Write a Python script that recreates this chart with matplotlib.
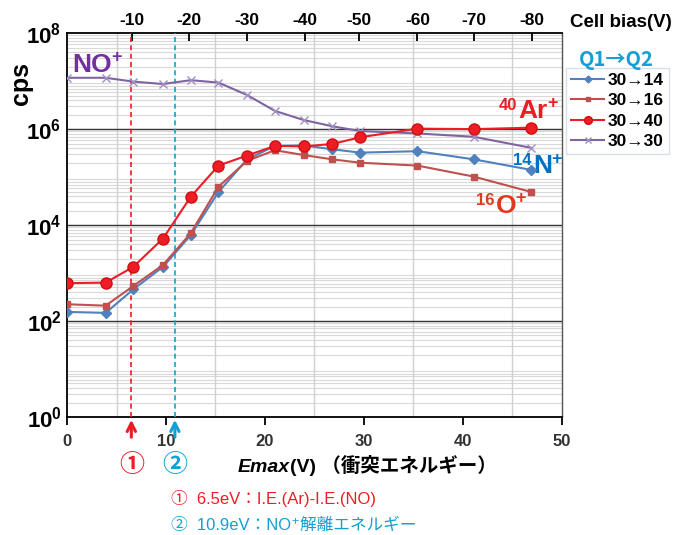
import numpy as np
import matplotlib
matplotlib.use('Agg')
import matplotlib.pyplot as plt

plt.rcParams['font.family'] = ['Liberation Sans', 'Noto Sans CJK JP', 'DejaVu Sans']
plt.rcParams['mathtext.fontset'] = 'custom'
plt.rcParams['mathtext.rm'] = 'Liberation Sans'
plt.rcParams['mathtext.bf'] = 'Liberation Sans:bold'
plt.rcParams['mathtext.it'] = 'Liberation Sans:italic'

# Emax (V) of each measured point, and the matching cell bias (V)
emax = [0, 3.9, 6.7, 9.7, 12.5, 15.3, 18.2, 21.0, 23.9, 26.8, 29.6, 35.4, 41.1, 46.9]
cell_bias = [0, -5, -10, -15, -20, -25, -30, -35, -40, -45, -50, -60, -70, -80]

# counts (cps), log10 values
n14 = [2.19, 2.17, 2.66, 3.13, 3.79, 4.69, 5.37, 5.65, 5.66, 5.58, 5.51, 5.54, 5.37, 5.15]
o16 = [2.35, 2.32, 2.73, 3.17, 3.83, 4.80, 5.34, 5.56, 5.46, 5.37, 5.30, 5.24, 5.01, 4.69]
ar40 = [2.79, 2.80, 3.13, 3.72, 4.59, 5.24, 5.45, 5.65, 5.64, 5.69, 5.83, 6.01, 6.00, 6.03]
no30 = [7.07, 7.07, 6.99, 6.94, 7.02, 6.97, 6.71, 6.38, 6.19, 6.06, 5.96, 5.91, 5.84, 5.61]

# top axis: cell bias tick labels and where they fall in Emax
bias_ticks = [-10, -20, -30, -40, -50, -60, -70, -80]
bias_tick_emax = [6.6, 12.3, 18.2, 24.0, 29.5, 35.4, 41.1, 47.0]

ie_ar_no = 6.5
no_dissoc = 10.9

c_blue = '#4f81bd'
c_brown = '#c0504d'
c_red = '#ee1c25'
c_purple = '#8064a2'
c_cyan = '#139fd3'
cjk = ['Noto Sans CJK JP', 'DejaVu Sans']

fig = plt.figure(figsize=(6.77, 5.35), dpi=100)
ax = fig.add_axes([0.099, 0.2206, 0.731, 0.7174])

ax.set_yscale('log')
ax.set_xlim(0, 50)
ax.set_ylim(1, 1e8)

# grid
for e in range(0, 8):
    for m in range(2, 10):
        ax.axhline(m * 10**e, color='#d9d9d9', lw=0.8, zorder=0)
for y in [1e2, 1e4, 1e6]:
    ax.axhline(y, color='#333333', lw=1.0, zorder=1)
for x in [5, 15, 25, 35, 45]:
    ax.axvline(x, color='#d0d0d0', lw=1.0, zorder=0)

ax.plot(emax, 10**np.array(n14), color=c_blue, marker='D', ms=5, lw=1.5, label='30→14', zorder=4)
ax.plot(emax, 10**np.array(o16), color=c_brown, marker='s', ms=5, lw=1.5, label='30→16', zorder=4)
ax.plot(emax, 10**np.array(ar40), color=c_red, marker='o', ms=8, lw=1.5, label='30→40', zorder=5,
        markeredgecolor='#d01010')
ax.plot(emax, 10**np.array(no30), color=c_purple, marker='x', ms=6, lw=1.5, label='30→30', zorder=4,
        markeredgecolor='#a090c0')

ax.axvline(ie_ar_no, color=c_red, ls=(0, (3, 2)), lw=1.2, zorder=3)
ax.axvline(no_dissoc, color=c_cyan, ls=(0, (3, 2)), lw=1.2, zorder=3)

# arrows under the axis
for xv, col in [(ie_ar_no, c_red), (no_dissoc, c_cyan)]:
    ax.annotate('', xy=(xv, 0.0), xytext=(xv, -0.06), xycoords=('data', 'axes fraction'),
                textcoords=('data', 'axes fraction'),
                arrowprops=dict(arrowstyle='->', color=col, lw=2.2, mutation_scale=15))
ax.text(ie_ar_no, -0.125, '①', color=c_red, fontsize=18, fontweight='bold', ha='center', va='center',
        transform=ax.get_xaxis_transform(), family=cjk)
ax.text(no_dissoc, -0.125, '②', color=c_cyan, fontsize=18, fontweight='bold', ha='center', va='center',
        transform=ax.get_xaxis_transform(), family=cjk)

# axes styling
for s in ['left', 'bottom', 'top']:
    ax.spines[s].set_color('black')
    ax.spines[s].set_linewidth(1.3)
ax.spines['right'].set_color('#555555')
ax.spines['right'].set_linewidth(1.0)

ax.set_xticks([0, 10, 20, 30, 40, 50])
ax.set_xticklabels(['0', '10', '20', '30', '40', '50'], fontsize=12, fontweight='bold', color='#333333')
ax.tick_params(axis='x', direction='out', length=6, width=1.3, pad=6)
ax.minorticks_off()
ax.set_yticks([1, 1e2, 1e4, 1e6, 1e8])
ax.set_yticklabels([r'$\mathbf{10^{0}}$', r'$\mathbf{10^{2}}$', r'$\mathbf{10^{4}}$',
                    r'$\mathbf{10^{6}}$', r'$\mathbf{10^{8}}$'], fontsize=16)
ax.tick_params(axis='y', length=0, pad=4)

top = ax.secondary_xaxis('top')
top.set_xticks(bias_tick_emax)
top.set_xticklabels([str(b) for b in bias_ticks], fontsize=12.5, fontweight='bold')
top.tick_params(direction='in', length=6, width=1.3, pad=4)
top.spines['top'].set_visible(False)

fig.text(0.917, 0.958, 'Cell bias(V)', fontsize=13.5, fontweight='bold', ha='center', va='center')
ax.set_ylabel('cps', fontsize=18, fontweight='bold', labelpad=2)
ax.yaxis.set_label_coords(-0.068, 0.87)


# series labels: main text plus superscripts as separate pieces
def ion_label(x, y, pre, main, color):
    t = ax.text(x, y, main, color=color, fontsize=19, fontweight='bold', ha='right', va='baseline')
    ax.annotate('+', xy=(1, 1), xycoords=t, xytext=(-0.5, -3.5), textcoords='offset points',
                color=color, fontsize=13, fontweight='bold', ha='left', va='center')
    if pre:
        ax.annotate(pre, xy=(0, 1), xycoords=t, xytext=(-1, 1), textcoords='offset points',
                    color=color, fontsize=12, fontweight='bold', ha='right', va='top')
    return t


ion_label(4.5, 10**7.19, '', 'NO', '#7030a0')
ion_label(48.6, 10**6.23, '40', 'Ar', c_red)
ion_label(49.0, 10**5.08, '14', 'N', '#0070c0')
ion_label(45.4, 10**4.25, '16', 'O', '#e03a1e')

# legend
fig.text(0.911, 0.888, 'Q1→Q2', color=c_cyan, fontsize=14.5, fontweight='bold', ha='center', va='center',
         family=['Noto Sans CJK JP', 'DejaVu Sans'])
leg = ax.legend(loc='upper left', bbox_to_anchor=(1.008, 0.91), frameon=True, fontsize=12.5,
                handlelength=1.9, handletextpad=0.2, borderpad=0.3, labelspacing=0.3,
                borderaxespad=0, markerscale=0.7, fancybox=False, edgecolor='#d0d8e8')
for t in leg.get_texts():
    t.set_fontweight('bold')

# x label and notes
fig.text(0.428, 0.118, 'Emax', fontsize=14, fontweight='bold', style='italic', ha='right', va='baseline')
fig.text(0.428, 0.118, '(V) （衝突エネルギー）', fontsize=14, fontweight='bold', ha='left', va='baseline',
         family=['Liberation Sans', 'Noto Sans CJK JP', 'DejaVu Sans'])
fig.text(0.253, 0.068, '①  6.5eV：I.E.(Ar)-I.E.(NO)', color=c_red, fontsize=12, ha='left', va='center')
fig.text(0.253, 0.018, '②  10.9eV：NO⁺解離エネルギー', color=c_cyan, fontsize=12, ha='left', va='center')

fig.savefig('out.png', dpi=100)
